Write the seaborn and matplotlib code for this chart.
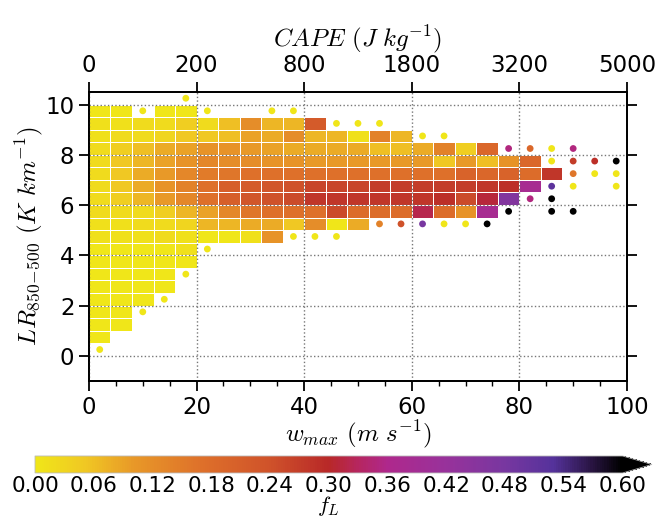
import numpy as np
import matplotlib
matplotlib.use("Agg")
import matplotlib.pyplot as plt
import seaborn as sns
from matplotlib.colors import LinearSegmentedColormap, Normalize
from matplotlib.cm import ScalarMappable
from matplotlib.ticker import MultipleLocator

sns.set_style("white")
plt.rcParams['font.family'] = ['DejaVu Sans']
plt.rcParams['mathtext.fontset'] = 'cm'
for k in ("text.color", "axes.labelcolor", "xtick.color", "ytick.color"):
    plt.rcParams[k] = "black"

# ---------------- data ----------------
w_step = 4.0          # w_max bin width (m/s)
lr_step = 0.5         # lapse-rate bin width (K/km)
n_w_bins = 25
n_lr_bins = 21        # 0.0 ... 10.5

nan = np.nan
# f_L per cell; one list per lapse-rate bin (lower edge), columns start at w_max = 0
cells_lr_00 = []
cells_lr_05 = [0.00]
cells_lr_10 = [0.00, 0.00]
cells_lr_15 = [0.00, 0.00]
cells_lr_20 = [0.00, 0.00, 0.00]
cells_lr_25 = [0.00, 0.00, 0.00, 0.00]
cells_lr_30 = [0.00, 0.00, 0.00, 0.00]
cells_lr_35 = [0.00, 0.00, 0.00, 0.00, 0.00]
cells_lr_40 = [0.00, 0.00, 0.00, 0.00, 0.01]
cells_lr_45 = [0.01, 0.01, 0.01, 0.02, 0.01, 0.00, 0.00, 0.01, 0.11]
cells_lr_50 = [0.01, 0.01, 0.02, 0.02, 0.03, 0.07, 0.07, 0.08, 0.08, 0.05, 0.12, 0.00, 0.08]
cells_lr_55 = [0.02, 0.02, 0.02, 0.04, 0.07, 0.09, 0.13, 0.16, 0.17, 0.17, 0.17, 0.25, 0.18,
               0.18, 0.18, 0.32, 0.18, 0.11, 0.38]
cells_lr_60 = [0.02, 0.04, 0.07, 0.10, 0.13, 0.17, 0.21, 0.23, 0.24, 0.25, 0.28, 0.28, 0.28,
               0.28, 0.28, 0.28, 0.29, 0.25, 0.31, 0.46]
cells_lr_65 = [0.02, 0.05, 0.08, 0.11, 0.14, 0.17, 0.21, 0.22, 0.23, 0.24, 0.26, 0.26, 0.26,
               0.27, 0.27, 0.27, 0.27, 0.27, 0.28, 0.29, 0.38]
cells_lr_70 = [0.02, 0.05, 0.08, 0.10, 0.13, 0.15, 0.16, 0.17, 0.17, 0.17, 0.17, 0.17, 0.17,
               0.17, 0.17, 0.17, 0.17, 0.20, 0.19, 0.20, 0.18, 0.28]
cells_lr_75 = [0.02, 0.05, 0.07, 0.09, 0.11, 0.13, 0.12, 0.12, 0.11, 0.11, 0.10, 0.10, 0.10,
               0.10, 0.10, 0.10, 0.05, 0.10, 0.06, 0.11, 0.19]
cells_lr_80 = [0.02, 0.04, 0.06, 0.08, 0.09, 0.11, 0.11, 0.10, 0.09, 0.08, 0.08, 0.08, 0.08,
               0.06, 0.06, 0.08, 0.14, 0.04, 0.19]
cells_lr_85 = [0.01, 0.02, 0.02, 0.03, 0.05, 0.05, 0.06, 0.09, 0.08, 0.12, 0.07, 0.07, 0.01,
               0.14, 0.07]
cells_lr_90 = [0.01, 0.01, 0.02, 0.02, 0.04, 0.02, 0.06, 0.12, 0.07, 0.07, 0.22]
cells_lr_95 = [0.00, 0.00, nan, 0.00, 0.00]
cells_lr_100 = []

cell_rows = [cells_lr_00, cells_lr_05, cells_lr_10, cells_lr_15, cells_lr_20, cells_lr_25,
             cells_lr_30, cells_lr_35, cells_lr_40, cells_lr_45, cells_lr_50, cells_lr_55,
             cells_lr_60, cells_lr_65, cells_lr_70, cells_lr_75, cells_lr_80, cells_lr_85,
             cells_lr_90, cells_lr_95, cells_lr_100]

# sparse bins drawn as dots (bin centres)
dot_w = [18, 10, 22, 34, 38, 46, 50, 54, 62, 66,
         78, 82, 86, 90, 86, 90, 94, 98, 90, 94, 98,
         86, 90, 98, 82, 86, 78, 86, 90,
         54, 58, 62, 66, 70, 74, 38, 42, 46, 22, 18, 14, 10, 2]
dot_lr = [10.25, 9.75, 9.75, 9.75, 9.75, 9.25, 9.25, 9.25, 8.75, 8.75,
          8.25, 8.25, 8.25, 8.25, 7.75, 7.75, 7.75, 7.75, 7.25, 7.25, 7.25,
          6.75, 6.75, 6.75, 6.25, 6.25, 5.75, 5.75, 5.75,
          5.25, 5.25, 5.25, 5.25, 5.25, 5.25, 4.75, 4.75, 4.75, 4.25, 3.25, 2.25, 1.75, 0.25]
dot_fl = [0.00, 0.00, 0.00, 0.00, 0.00, 0.00, 0.00, 0.00, 0.00, 0.00,
          0.35, 0.19, 0.00, 0.35, 0.00, 0.27, 0.29, 0.62, 0.16, 0.00, 0.00,
          0.52, 0.00, 0.00, 0.35, 0.62, 0.62, 0.62, 0.62,
          0.14, 0.24, 0.48, 0.00, 0.00, 0.62, 0.00, 0.00, 0.00, 0.00, 0.00, 0.00, 0.00, 0.00]

cape_ticks = [0, 200, 800, 1800, 3200, 5000]
fl_ticks = [0.00, 0.06, 0.12, 0.18, 0.24, 0.30, 0.36, 0.42, 0.48, 0.54, 0.60]

# ---------------- colormap ----------------
nodes = [
    (0.000, (240, 230, 25)),
    (0.083, (240, 200, 35)),
    (0.167, (232, 152, 40)),
    (0.283, (222, 112, 42)),
    (0.400, (207, 82, 42)),
    (0.500, (184, 40, 40)),
    (0.550, (182, 38, 95)),
    (0.600, (175, 40, 140)),
    (0.700, (152, 50, 155)),
    (0.800, (120, 55, 160)),
    (0.883, (85, 50, 155)),
    (0.950, (40, 20, 65)),
    (1.000, (0, 0, 0)),
]
cmap = LinearSegmentedColormap.from_list(
    "fl", [(p, tuple(c / 255 for c in col)) for p, col in nodes])
cmap.set_over("black")
norm = Normalize(vmin=0.0, vmax=0.6)

# ---------------- build grid ----------------
grid = np.full((n_lr_bins, n_w_bins), np.nan)
for i, row in enumerate(cell_rows):
    grid[i, :len(row)] = row
grid = np.ma.masked_invalid(grid)
w_edges = np.arange(n_w_bins + 1) * w_step
lr_edges = np.arange(n_lr_bins + 1) * lr_step

# ---------------- figure ----------------
fig = plt.figure(figsize=(6.67, 5.24), dpi=100)
ax = fig.add_axes([0.1334, 0.273, 0.8066, 0.5515])

ax.pcolormesh(w_edges, lr_edges, grid, cmap=cmap, norm=norm,
              edgecolors="white", linewidth=0.55, zorder=1)
sns.scatterplot(x=dot_w, y=dot_lr, hue=dot_fl, palette=cmap, hue_norm=norm,
                s=24, linewidth=0, legend=False, ax=ax, zorder=3)

fs = 16.5
lfs = 18
ax.set_xlim(0, 100)
ax.set_ylim(-1, 10.5)
ax.set_xticks([0, 20, 40, 60, 80, 100])
ax.xaxis.set_minor_locator(MultipleLocator(5))
ax.set_yticks([0, 2, 4, 6, 8, 10])
ax.grid(True, which="major", linestyle=":", color="#777777", linewidth=1.0)
ax.set_axisbelow(False)
ax.yaxis.set_ticks_position("both")
ax.tick_params(axis="both", which="major", direction="out", length=7, width=1.3,
               labelsize=fs, color="black", labelcolor="black")
ax.tick_params(axis="x", which="minor", direction="out", length=3.5, width=1.0,
               bottom=True, top=False)
ax.tick_params(axis="x", top=False)
for sp in ax.spines.values():
    sp.set_linewidth(1.3)
    sp.set_color("black")

ax.set_xlabel(r"$w_{max}\ (m\ s^{-1})$", fontsize=lfs, labelpad=0)
ax.set_ylabel(r"$LR_{850\!-\!500}\ (K\ km^{-1})$", fontsize=lfs, labelpad=0)

ax2 = ax.twiny()
ax2.set_xlim(ax.get_xlim())
ax2.set_xticks(np.sqrt(2 * np.array(cape_ticks, dtype=float)))
ax2.set_xticklabels([str(c) for c in cape_ticks])
ax2.tick_params(axis="x", direction="out", length=7, width=1.3, labelsize=fs,
                color="black", labelcolor="black")
ax2.set_xlabel(r"$CAPE\ (J\ kg^{-1})$", fontsize=lfs, labelpad=6)
for sp in ax2.spines.values():
    sp.set_linewidth(1.3)
    sp.set_color("black")

# ---------------- colorbar ----------------
cax = fig.add_axes([0.0525, 0.0974, 0.925, 0.0324])
cb = fig.colorbar(ScalarMappable(norm=norm, cmap=cmap), cax=cax,
                  orientation="horizontal", extend="max", ticks=fl_ticks,
                  format="%.2f")
cb.outline.set_edgecolor("#bbbbbb")
cb.outline.set_linewidth(0.6)
cb.ax.tick_params(length=0, labelsize=fs - 1, pad=2, labelcolor="black")
cb.set_label(r"$f_L$", fontsize=lfs - 2, labelpad=-1)

fig.savefig("out.png", dpi=100)
